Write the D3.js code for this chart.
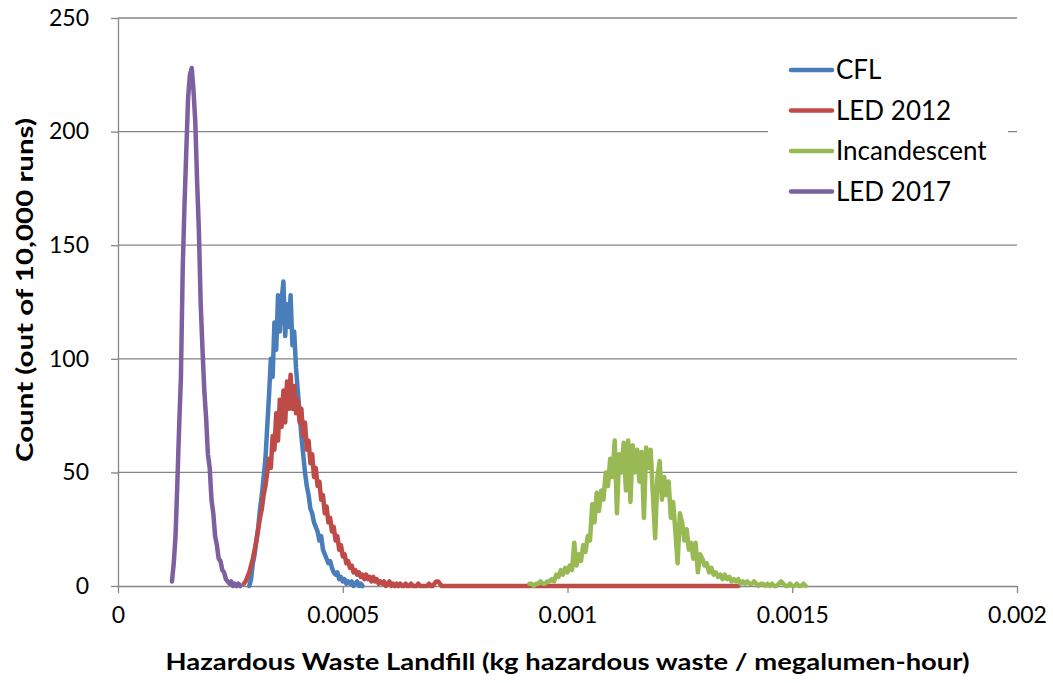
<!DOCTYPE html>
<html>
<head>
<meta charset="utf-8">
<script src="https://cdn.jsdelivr.net/npm/d3@7"></script>
<style>
  body { margin: 0; background: #fff; }
  svg { display: block; }
  .axis text { font-family: Lato, "Liberation Sans", sans-serif; font-size: 23px; fill: #000; }
  .axis path, .axis line { stroke: #868686; stroke-width: 1.3; }
</style>
</head>
<body>
<div id="chart"></div>
<script>
// Bin counts (x = start + i * step)
const cflStart = 0.000292, cflStep = 0.000004;
const cflCounts = [0, 3, 10, 14, 20, 26, 34, 40, 48, 56, 70, 84, 100, 92, 116, 104, 128, 112, 126, 134,
  110, 124, 114, 128, 106, 112, 96, 86, 76, 66, 58, 50, 44, 40, 34, 32, 28, 26, 24, 20,
  22, 16, 14, 12, 10, 11, 8, 6, 5, 6, 3, 4, 2, 3, 1, 2, 1, 2, 0, 1, 2, 0, 1, 0];

const led12Start = 0.000280, led12Step = 0.000004;
const led12Counts = [1, 2, 4, 6, 9, 12, 16, 20, 25, 30, 34, 40, 44, 50, 56, 52, 66, 60, 76, 64,
  82, 70, 86, 72, 90, 78, 93, 78, 88, 76, 82, 72, 78, 66, 72, 60, 64, 54, 58, 48,
  52, 44, 46, 38, 40, 32, 35, 28, 30, 24, 26, 20, 22, 16, 18, 13, 14, 10, 11, 8,
  9, 6, 7, 5, 6, 4, 5, 3, 5, 3, 4, 2, 4, 2, 3, 1, 2, 1, 2, 0,
  1, 2, 0, 1, 0, 1, 0, 1, 0, 0, 1, 0, 0, 1, 0, 0, 0, 1, 0, 0,
  0, 0, 0, 1, 0, 0, 1, 2, 2, 1, 0];
// long flat stretch of LED 2012 at zero
const led12TailX = [0.00080, 0.00095, 0.00110, 0.00125, 0.00138];
const led12TailY = [0, 0, 0, 0, 0];

const incStart = 0.000915, incStep = 0.000005;
const incCounts = [1, 1, 0, 1, 1, 2, 1, 1, 2, 2, 3, 2, 5, 4, 7, 5, 8, 6, 9, 7,
  19, 9, 14, 11, 18, 15, 22, 20, 36, 28, 41, 33, 42, 38, 50, 44, 56, 48, 64, 32,
  58, 50, 63, 42, 64, 37, 62, 50, 60, 46, 59, 30, 61, 52, 60, 40, 21, 48, 55, 38,
  48, 40, 46, 30, 37, 24, 10, 32, 28, 20, 25, 16, 19, 12, 19, 6, 14, 12, 9, 10,
  6, 8, 5, 6, 4, 5, 3, 5, 3, 4, 2, 3, 2, 3, 1, 2, 1, 2, 1, 1,
  2, 1, 0, 1, 1, 0, 1, 0, 1, 0, 0, 1, 2, 1, 0, 0, 1, 0, 0, 1, 0, 0, 1, 0];

const led17Start = 0.000120, led17Step = 0.000004;
const led17Counts = [2, 10, 22, 45, 70, 92, 140, 168, 192, 215, 225, 228, 218, 204, 178, 156, 124, 104, 86, 74,
  58, 52, 38, 32, 22, 18, 12, 11, 7, 6, 3, 2, 1, 2, 0, 1, 0, 1, 0];

const seriesNames = ["CFL", "LED 2012", "Incandescent", "LED 2017"];
const seriesColors = ["#4a7ebb", "#be4b48", "#98b954", "#7d60a0"];

const xTicks = [0, 0.0005, 0.001, 0.0015, 0.002];
const xTickLabels = ["0", "0.0005", "0.001", "0.0015", "0.002"];
const yTicks = [0, 50, 100, 150, 200, 250];

function toPoints(start, step, counts) {
  return counts.map((c, i) => ({ x: start + i * step, y: c }));
}

const series = [
  toPoints(cflStart, cflStep, cflCounts),
  toPoints(led12Start, led12Step, led12Counts)
    .concat(led12TailX.map((x, i) => ({ x: x, y: led12TailY[i] }))),
  toPoints(incStart, incStep, incCounts),
  toPoints(led17Start, led17Step, led17Counts)
];

const width = 1053, height = 683;
const plotLeft = 118, plotRight = 1017, plotTop = 18, plotBottom = 586;

const svg = d3.select("#chart")
  .append("svg")
  .attr("width", width)
  .attr("height", height);

const x = d3.scaleLinear().domain([0, 0.002]).range([plotLeft, plotRight]);
const y = d3.scaleLinear().domain([0, 250]).range([plotBottom, plotTop]);

// horizontal gridlines
svg.append("g")
  .selectAll("line")
  .data(yTicks.filter(d => d > 0))
  .enter()
  .append("line")
  .attr("x1", plotLeft)
  .attr("x2", plotRight)
  .attr("y1", d => y(d))
  .attr("y2", d => y(d))
  .attr("stroke", "#868686")
  .attr("stroke-width", 1.3);

// axes
svg.append("g")
  .attr("class", "axis")
  .attr("transform", `translate(0,${plotBottom})`)
  .call(d3.axisBottom(x).tickValues(xTicks).tickSize(7).tickSizeOuter(0).tickPadding(14)
    .tickFormat((d, i) => xTickLabels[i]));

svg.append("g")
  .attr("class", "axis")
  .attr("transform", `translate(${plotLeft},0)`)
  .call(d3.axisLeft(y).tickValues(yTicks).tickSize(7).tickSizeOuter(0).tickPadding(22));

// data lines
const line = d3.line()
  .x(d => x(d.x))
  .y(d => y(d.y));

svg.append("g")
  .selectAll("path")
  .data(series)
  .enter()
  .append("path")
  .attr("d", line)
  .attr("fill", "none")
  .attr("stroke", (d, i) => seriesColors[i])
  .attr("stroke-width", 4.5)
  .attr("stroke-linejoin", "round")
  .attr("stroke-linecap", "round");

// legend
const legend = svg.append("g");
legend.append("rect")
  .attr("x", 768)
  .attr("y", 46)
  .attr("width", 240)
  .attr("height", 164)
  .attr("fill", "#fff");

const items = legend.selectAll("g.item")
  .data(seriesNames)
  .enter()
  .append("g")
  .attr("class", "item")
  .attr("transform", (d, i) => `translate(0,${70 + i * 40.5})`);

items.append("line")
  .attr("x1", 791)
  .attr("x2", 832)
  .attr("stroke", (d, i) => seriesColors[i])
  .attr("stroke-width", 4.5)
  .attr("stroke-linecap", "round");

items.append("text")
  .attr("x", 836)
  .attr("dy", "0.35em")
  .attr("font-family", "Lato, 'Liberation Sans', sans-serif")
  .attr("font-size", 26)
  .text(d => d);

// axis titles
svg.append("text")
  .attr("x", (plotLeft + plotRight) / 2)
  .attr("y", 670)
  .attr("text-anchor", "middle")
  .attr("font-family", "Lato, 'Liberation Sans', sans-serif")
  .attr("font-weight", "bold")
  .attr("font-size", 23)
  .attr("textLength", 804)
  .attr("lengthAdjust", "spacingAndGlyphs")
  .text("Hazardous Waste Landfill (kg hazardous waste / megalumen-hour)");

svg.append("text")
  .attr("transform", `translate(33,${(plotTop + plotBottom) / 2 - 12}) rotate(-90)`)
  .attr("text-anchor", "middle")
  .attr("font-family", "Lato, 'Liberation Sans', sans-serif")
  .attr("font-weight", "bold")
  .attr("font-size", 23)
  .attr("textLength", 344)
  .attr("lengthAdjust", "spacingAndGlyphs")
  .text("Count (out of 10,000 runs)");
</script>
</body>
</html>
